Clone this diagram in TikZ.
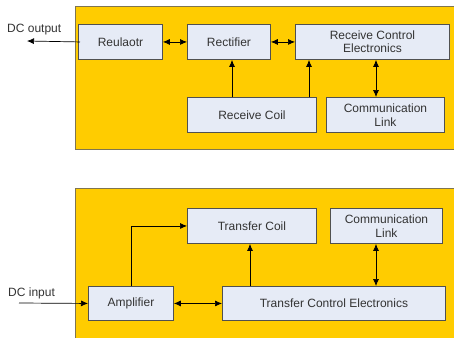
\documentclass[tikz,border=0pt]{standalone}
\usepackage{fontspec}
\setmainfont{Liberation Sans}
\usetikzlibrary{arrows.meta}
\definecolor{panel}{HTML}{FFCC00}
\definecolor{panelline}{HTML}{7F7550}
\definecolor{boxfill}{HTML}{E6EBF6}
\definecolor{boxline}{HTML}{505050}
\definecolor{ink}{HTML}{333333}
\tikzset{
  panelbox/.style={fill=panel, draw=panelline, line width=0.9pt},
  block/.style={draw=boxline, fill=boxfill, line width=0.9pt, text=ink,
    font=\fontsize{12}{13.5}\selectfont, align=center, inner sep=0pt},
  link/.style={draw=black, line width=0.7pt, -{Latex[length=7pt,width=6pt]}},
  dlink/.style={draw=black, line width=0.7pt, {Latex[length=7pt,width=6pt]}-{Latex[length=7pt,width=6pt]}},
  lbl/.style={text=ink, font=\fontsize{12}{13.5}\selectfont, inner sep=0pt}
}
\begin{document}
\begin{tikzpicture}[x=1pt,y=-1pt]
\useasboundingbox (0,0) rectangle (454,337);
% receiver panel
\path[panelbox] (75,6.5) rectangle (460,149);
% transmitter panel
\path[panelbox] (75,188) rectangle (460,345);

% receiver blocks
\node[block, minimum width=84pt, minimum height=35pt, anchor=north west] (reg) at (78,24) {Reulaotr};
\node[block, minimum width=83pt, minimum height=35pt, anchor=north west] (rect) at (187,24) {Rectifier};
\node[block, minimum width=154pt, minimum height=35pt, anchor=north west] (rce) at (295,24) {Receive Control\\Electronics};
\node[block, minimum width=129pt, minimum height=35pt, anchor=north west] (rcoil) at (187,97) {Receive Coil};
\node[block, minimum width=118pt, minimum height=35pt, anchor=north west] (rcomm) at (326,97) {Communication\\Link};

% transmitter blocks
\node[block, minimum width=129pt, minimum height=35pt, anchor=north west] (tcoil) at (187,208) {Transfer Coil};
\node[block, minimum width=112pt, minimum height=35pt, anchor=north west] (tcomm) at (330,208) {Communication\\Link};
\node[block, minimum width=85pt, minimum height=34pt, anchor=north west] (amp) at (88,286) {Amplifier};
\node[block, minimum width=223pt, minimum height=34pt, anchor=north west] (tce) at (222,286) {Transfer Control Electronics};

% external labels
\node[lbl, anchor=base west] (dcout) at (7,33) {DC output};
\node[lbl, anchor=base west] (dcin) at (8,296) {DC input};
\coordinate (outend) at (27,41);
\coordinate (inbeg) at (19,303);

% receiver connections
\draw[link] (reg.west) ++(2,0) -- (outend);
\draw[dlink] (reg.east) -- (rect.west);
\draw[dlink] (rect.east) -- (rce.west);
\draw[link] (rcoil.north -| 232,0) -- (rect.south -| 232,0);
\draw[link] (rcoil.north -| 309,0) -- (rce.south -| 309,0);
\draw[dlink] (rce.south -| 376,0) -- (rcomm.north -| 376,0);

% transmitter connections
\draw[link] (inbeg) -- (amp.west);
\draw[dlink] (amp.east) -- (tce.west);
\draw[link] (amp.north -| 131,0) |- (tcoil.west);
\draw[link] (tce.north -| 250,0) -- (tcoil.south -| 250,0);
\draw[dlink] (tce.north -| 376,0) -- (tcomm.south -| 376,0);
\end{tikzpicture}
\end{document}
